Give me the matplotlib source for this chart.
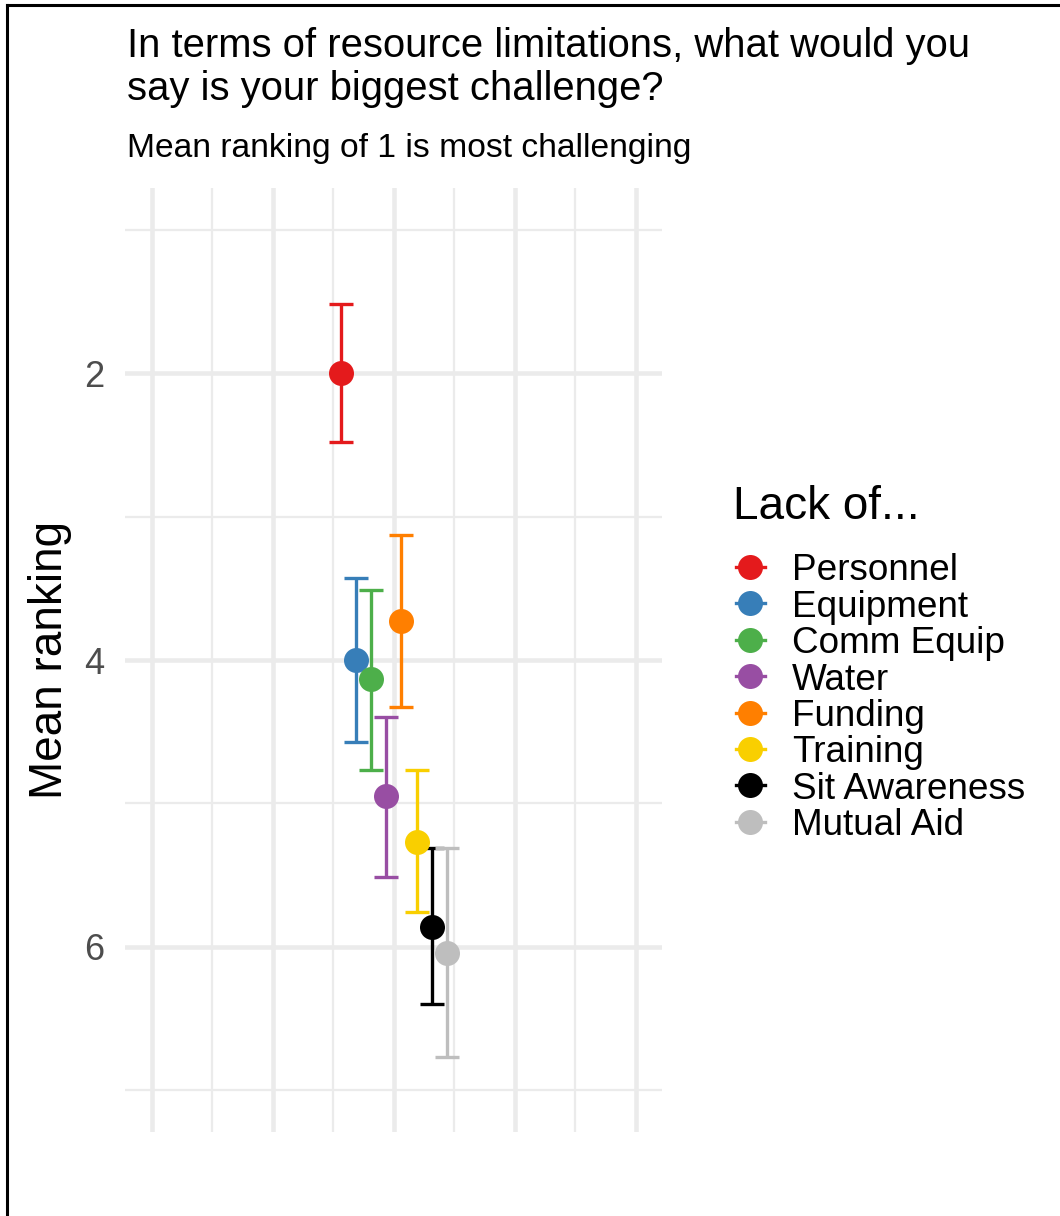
import matplotlib
matplotlib.use("Agg")
import matplotlib.pyplot as plt
from matplotlib.lines import Line2D
import numpy as np

plt.rcParams['font.family'] = ['Liberation Sans', 'DejaVu Sans']

categories = ["Personnel", "Equipment", "Comm Equip", "Water", "Funding",
              "Training", "Sit Awareness", "Mutual Aid"]
means = [2.00, 4.00, 4.13, 4.95, 3.73, 5.27, 5.86, 6.04]
lower = [1.52, 3.43, 3.51, 4.40, 3.13, 4.77, 5.31, 5.31]
upper = [2.48, 4.57, 4.77, 5.51, 4.33, 5.76, 6.40, 6.77]
colors = ["#E41A1C", "#377EB8", "#4DAF4A", "#984EA3", "#FF7F00",
          "#F9CF00", "#000000", "#BEBEBE"]
y_major = [2, 4, 6]
y_minor = [1, 3, 5, 7]

W, H = 1060, 1216
fig = plt.figure(figsize=(W / 100, H / 100), dpi=100)
ax = fig.add_axes([125 / W, 1 - 1132 / H, 537 / W, 944 / H])

n = len(categories)
dodge = 0.25
xs = [(i - (n - 1) / 2) * dodge for i in range(n)]

# grid
for v in [-4, -2, 0, 2, 4]:
    ax.axvline(v, color="#EBEBEB", lw=3.3, zorder=0)
for v in [-3, -1, 1, 3]:
    ax.axvline(v, color="#EBEBEB", lw=1.6, zorder=0)
for v in y_major:
    ax.axhline(v, color="#EBEBEB", lw=3.3, zorder=0)
for v in y_minor:
    ax.axhline(v, color="#EBEBEB", lw=1.6, zorder=0)

for x, m, lo, hi, c in zip(xs, means, lower, upper, colors):
    ax.errorbar([x], [m], yerr=[[m - lo], [hi - m]], fmt='none', ecolor=c,
                elinewidth=2.4, capsize=8.6, capthick=2.4, zorder=2)
    ax.plot([x], [m], 'o', color=c, ms=18, mec='none', zorder=3)

ax.set_xlim(-4.44, 4.43)
ax.set_ylim(7.29, 0.71)
ax.set_yticks(y_major)
ax.set_yticklabels([str(v) for v in y_major])
ax.set_xticks([])
ax.tick_params(axis='y', length=0, labelsize=26, labelcolor="#4D4D4D", pad=15)
for s in ax.spines.values():
    s.set_visible(False)
fig.text(50 / W, 1 - 660 / H, "Mean ranking", fontsize=33, rotation=90,
         ha='center', va='center')

# titles
fig.text(127 / W, 1 - 57 / H, "In terms of resource limitations, what would you",
         fontsize=28.8, va='baseline', ha='left')
fig.text(127 / W, 1 - 100 / H, "say is your biggest challenge?",
         fontsize=28.8, va='baseline', ha='left')
fig.text(127 / W, 1 - 157 / H, "Mean ranking of 1 is most challenging",
         fontsize=24.2, va='baseline', ha='left')

# legend
fig.text(733 / W, 1 - 519 / H, "Lack of...", fontsize=33, va='baseline', ha='left')
for i, (cat, c) in enumerate(zip(categories, colors)):
    yc = 567 + i * 36.4
    fig.add_artist(Line2D([736 / W, 765 / W], [1 - yc / H, 1 - yc / H],
                          color=c, lw=2.4, transform=fig.transFigure))
    fig.add_artist(Line2D([750 / W], [1 - yc / H], marker='o', ms=18, color=c,
                          mec='none', lw=0, transform=fig.transFigure))
    fig.text(792 / W, 1 - yc / H, cat, fontsize=26.6, va='center_baseline', ha='left')

# border (left and top)
fig.add_artist(Line2D([7 / W, 7 / W], [0, 1 - 5 / H], color='black', lw=2.2,
                      transform=fig.transFigure))
fig.add_artist(Line2D([7 / W, 1], [1 - 5 / H, 1 - 5 / H], color='black', lw=2.2,
                      transform=fig.transFigure))

fig.savefig("out.png", dpi=100)
